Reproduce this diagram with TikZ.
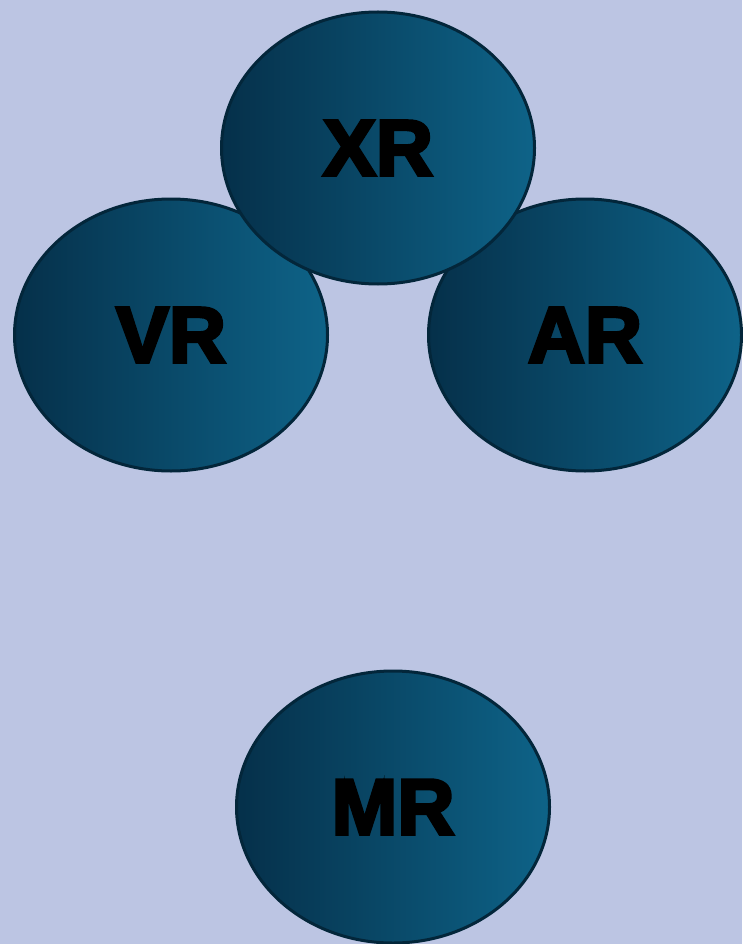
\documentclass[tikz,border=0pt]{standalone}
\usepackage{fontspec}
\usepackage{xcolor}
\usetikzlibrary{shapes.geometric}
\newfontfamily\bubblefont{Liberation Sans}[BoldFeatures={FakeBold=4}]
\definecolor{pagebg}{HTML}{BCC5E3}
\definecolor{bubbledark}{HTML}{05304A}
\definecolor{bubblelight}{HTML}{0E6388}
\definecolor{bubbleline}{HTML}{03263A}

\begin{document}
\begin{tikzpicture}[x=1pt, y=-1pt,
    bubble/.style={ellipse, draw=bubbleline, line width=3pt, left color=bubbledark, right color=bubblelight,
      minimum width=313pt, minimum height=272pt, inner sep=0pt,
      font=\bubblefont\bfseries\fontsize{79}{79}\selectfont, text=black}]
  \fill[pagebg] (0,0) rectangle (742,944);
  \useasboundingbox (0,0) rectangle (742,944);

  \node[bubble] (VR) at (171,335) {VR};
  \node[bubble] (AR) at (585,335) {AR};
  \node[bubble] (MR) at (393,807) {MR};
  \node[bubble] (XR) at (378,148) {XR};
\end{tikzpicture}
\end{document}
